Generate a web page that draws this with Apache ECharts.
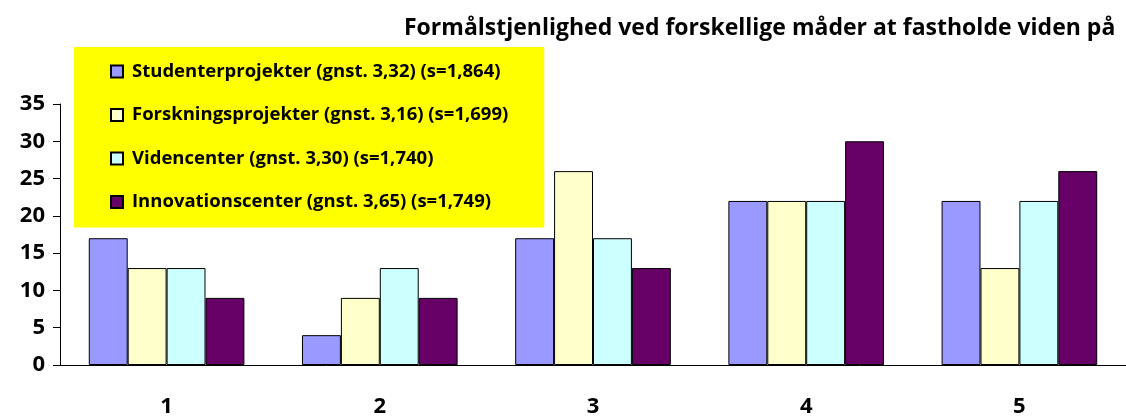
<!DOCTYPE html>
<html>
<head>
    <meta charset="UTF-8">
    <title>Formålstjenlighed</title>
    <script src="https://cdn.jsdelivr.net/npm/echarts@6/dist/echarts.min.js"></script>
</head>
<body style="margin: 0;overflow: hidden;background: #fff;">
<div id="main" style="width: 1126px;height: 418px;"></div>
<script type="text/javascript">
    var categories = ['1', '2', '3', '4', '5'];
    var seriesNames = [
        'Studenterprojekter (gnst. 3,32) (s=1,864)',
        'Forskningsprojekter (gnst. 3,16) (s=1,699)',
        'Videncenter (gnst. 3,30) (s=1,740)',
        'Innovationscenter (gnst. 3,65) (s=1,749)'
    ];
    var studenter = [17, 4, 17, 22, 22];
    var forskning = [13, 9, 26, 22, 13];
    var videncenter = [13, 13, 17, 22, 22];
    var innovation = [9, 9, 13, 30, 26];
    var colors = ['#9999ff', '#ffffcc', '#ccffff', '#660066'];
    var values = [studenter, forskning, videncenter, innovation];

    var font = 'Open Sans';
    var chart = echarts.init(document.getElementById('main'));

    var series = [];
    for (var i = 0; i < values.length; i++) {
        series.push({
            name: seriesNames[i],
            type: 'bar',
            data: values[i],
            barGap: '0%',
            barCategoryGap: '27%',
            itemStyle: {
                color: colors[i],
                borderColor: '#000',
                borderWidth: 1
            }
        });
    }

    chart.setOption({
        animation: false,
        title: {
            text: 'Formålstjenlighed ved forskellige måder at fastholde viden på',
            left: 404,
            top: 17,
            padding: 0,
            textStyle: {
                fontFamily: font,
                fontWeight: 'bold',
                fontSize: 23,
                color: '#000'
            }
        },
        legend: {
            orient: 'vertical',
            left: 74,
            top: 47,
            padding: [15, 36, 16, 36],
            backgroundColor: '#ffff00',
            itemGap: 24.5,
            itemWidth: 12,
            itemHeight: 12,
            icon: 'rect',
            textStyle: {
                fontFamily: font,
                fontWeight: 'bold',
                fontSize: 18.5,
                color: '#000',
                padding: [0, 0, 0, 4]
            },
            data: seriesNames
        },
        grid: {
            left: 60,
            right: -4,
            top: 104,
            bottom: 52
        },
        xAxis: {
            type: 'category',
            data: categories,
            axisLine: {lineStyle: {color: '#000', width: 1}},
            axisTick: {length: 8, lineStyle: {color: '#000'}},
            axisLabel: {
                margin: 31,
                fontFamily: font,
                fontWeight: 'bold',
                fontSize: 22,
                color: '#000'
            }
        },
        yAxis: {
            type: 'value',
            min: 0,
            max: 35,
            interval: 5,
            splitLine: {show: false},
            axisLine: {show: true, lineStyle: {color: '#000', width: 1}},
            axisTick: {show: true, length: 7, lineStyle: {color: '#000'}},
            axisLabel: {
                margin: 15,
                fontFamily: font,
                fontWeight: 'bold',
                fontSize: 22,
                color: '#000'
            }
        },
        series: series
    });
</script>
</body>
</html>
